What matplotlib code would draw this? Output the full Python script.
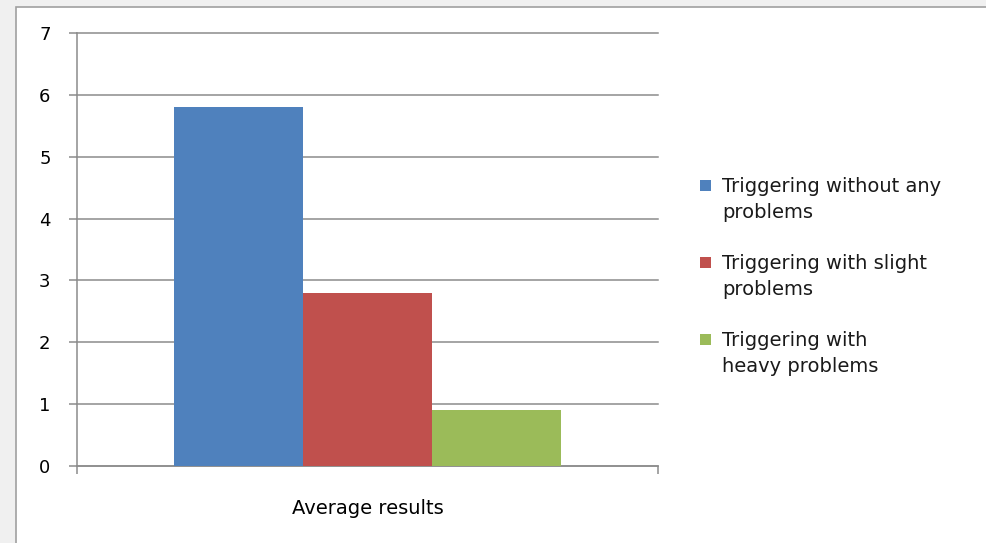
import matplotlib.pyplot as plt
from matplotlib.patches import Rectangle

# average trigger test results per outcome
categories = ['Average results']
series_names = ['Triggering without any\nproblems',
                'Triggering with slight\nproblems',
                'Triggering with\nheavy problems']
series_values = [5.8, 2.8, 0.9]
series_colors = ['#4F81BD', '#C0504D', '#9BBB59']
y_ticks = [0, 1, 2, 3, 4, 5, 6, 7]

plt.rcParams['font.family'] = 'DejaVu Sans'
grid_color = '#8c8c8c'
txt_size = 14

fig = plt.figure(figsize=(9.86, 5.43), dpi=100, facecolor='#f0f0f0')

# white chart area with a thin frame on the left and top
fig.add_artist(Rectangle((16 / 986, -0.05), 1.0, 1 - 7 / 543 + 0.05,
                         transform=fig.transFigure, facecolor='white',
                         edgecolor='#a0a0a0', linewidth=1.2, zorder=-5))

ax = fig.add_axes([77 / 986, 77 / 543, 581 / 986, 433 / 543])
ax.set_facecolor('none')

width = 0.222
for i, (name, val, col) in enumerate(zip(series_names, series_values, series_colors)):
    ax.bar((i - 1) * width, val, width=width, color=col, zorder=3)

ax.set_xlim(-0.5, 0.5)
ax.set_ylim(0, 7)
ax.set_yticks(y_ticks)
ax.set_yticklabels([str(t) for t in y_ticks], fontsize=txt_size - 1)
ax.yaxis.grid(True, color=grid_color, linewidth=1.1, zorder=0)
ax.set_axisbelow(True)
for gl in ax.get_ygridlines():
    gl.set_clip_on(False)

ax.set_xticks([0])
ax.set_xticklabels(categories, fontsize=txt_size)
ax.set_xticks([-0.5, 0.5], minor=True)
ax.tick_params(axis='x', which='major', length=0, pad=24)
ax.tick_params(axis='x', which='minor', length=6, width=1.1, color=grid_color)
ax.tick_params(axis='y', length=6, width=1.1, color=grid_color, pad=13)

for side in ['top', 'right']:
    ax.spines[side].set_visible(False)
for side in ['left', 'bottom']:
    ax.spines[side].set_color(grid_color)
    ax.spines[side].set_linewidth(1.1)

# legend drawn by hand so the swatch sits beside the first text line
for i, (name, col) in enumerate(zip(series_names, series_colors)):
    y = 1 - (186 + i * 77) / 543
    fig.add_artist(Rectangle((700 / 986, y - 5 / 543), 11 / 986, 11 / 543,
                             transform=fig.transFigure, facecolor=col,
                             edgecolor='none'))
    fig.text(722 / 986, y + 9 / 543, name, fontsize=txt_size, va='top', ha='left',
             linespacing=1.46, color='#1a1a1a')

fig.savefig('out.png', dpi=100, facecolor=fig.get_facecolor())
